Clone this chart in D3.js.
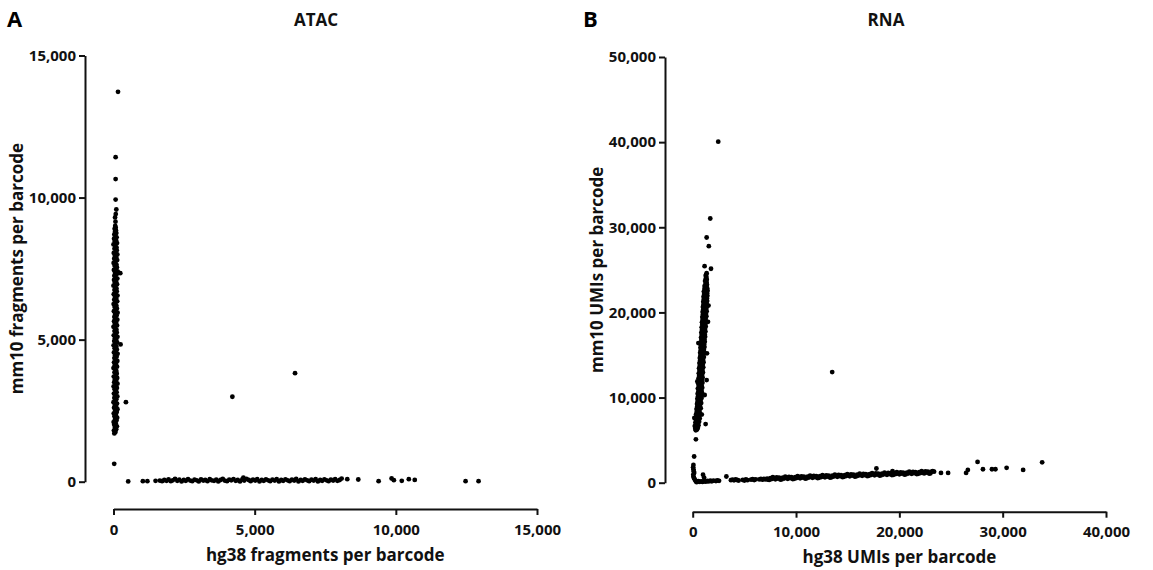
<!DOCTYPE html>
<html>
<head>
<meta charset="utf-8">
<script src="https://cdn.jsdelivr.net/npm/d3@7"></script>
<style>
  body { margin: 0; background: #fff; }
  svg { font-family: "Open Sans", Lato, sans-serif; }
</style>
</head>
<body>
<svg id="chart" width="1153" height="570"></svg>
<script>
// ---- ATAC (panel A): [hg38, mm10] fragments per barcode
const atacXTicks = [0, 5000, 10000, 15000];
const atacYTicks = [0, 5000, 10000, 15000];

const atacMouseCells = [
  [25,630],
  [30,1700],[70,1750],[15,1800],[95,1850],[50,1900],[120,1950],[25,2000],[80,2050],[5,2100],[105,2150],[55,2200],[130,2250],[35,2300],[85,2350],[10,2400],[115,2450],
  [60,2500],[140,2550],[20,2600],[90,2650],[45,2700],[125,2750],[0,2800],[75,2850],[100,2900],[30,2950],[135,3000],[55,3050],[15,3100],[110,3150],[65,3200],[40,3250],
  [120,3300],[5,3350],[85,3400],[140,3450],[25,3500],[95,3550],[50,3600],[130,3650],[10,3700],[75,3750],[115,3800],[35,3850],[100,3900],[60,3950],[0,4000],[125,4050],
  [45,4100],[90,4150],[20,4200],[135,4250],[70,4300],[30,4350],[110,4400],[55,4450],[145,4500],[15,4550],[85,4600],[120,4650],[40,4700],[100,4750],[5,4800],[65,4850],
  [130,4900],[25,4950],[95,5000],[50,5050],[140,5100],[10,5150],[80,5200],[115,5250],[35,5300],[105,5350],[60,5400],[0,5450],[125,5500],[45,5550],[90,5600],[20,5650],
  [135,5700],[70,5750],[30,5800],[110,5850],[55,5900],[145,5950],[15,6000],[85,6050],[120,6100],[40,6150],[100,6200],[5,6250],[65,6300],[130,6350],[25,6400],[95,6450],
  [50,6500],[140,6550],[10,6600],[80,6650],[115,6700],[35,6750],[105,6800],[60,6850],[0,6900],[125,6950],[45,7000],[90,7050],[20,7100],[135,7150],[70,7200],[30,7250],
  [110,7300],[55,7350],[140,7400],[15,7450],[85,7500],[120,7550],[40,7600],[100,7650],[5,7700],[65,7750],[130,7800],[25,7850],[95,7900],[50,7950],[135,8000],[10,8050],
  [80,8100],[115,8150],[35,8200],[105,8250],[60,8300],[0,8350],[125,8400],[45,8450],[90,8500],[20,8550],[110,8600],[70,8650],[30,8700],[100,8750],[55,8800],[85,8850],
  [40,8900],[75,8950],[60,9000],[70,9150],[55,9300],[80,9420],[100,9580],[75,9930],[75,10650],[75,11420]
];

const atacHumanCells = [
  [520,10],[1040,20],[1200,20],[1490,30],[1640,40],[1720,20],[1800,60],[1880,30],[1950,80],[2030,20],
  [2100,50],[2180,100],[2260,30],[2330,70],[2410,10],[2490,60],[2560,30],[2640,90],[2720,40],[2790,20],
  [2870,70],[2950,50],[3020,10],[3100,80],[3180,40],[3250,60],[3330,20],[3410,90],[3480,50],[3560,30],
  [3640,70],[3710,10],[3790,60],[3870,100],[3940,40],[4020,20],[4100,70],[4170,50],[4250,90],[4330,30],
  [4400,60],[4480,10],[4560,80],[4600,140],[4630,40],[4710,100],[4790,60],[4860,20],[4940,70],[5020,40],
  [5090,90],[5170,10],[5250,60],[5320,30],[5400,80],[5480,50],[5550,20],[5630,70],[5710,40],[5780,90],
  [5860,10],[5940,60],[6010,30],[6090,80],[6170,50],[6240,20],[6320,70],[6400,40],[6470,100],[6550,10],
  [6630,60],[6700,30],[6780,80],[6860,50],[6930,20],[7010,70],[7090,40],[7160,90],[7240,10],[7320,60],
  [7390,30],[7470,80],[7550,50],[7620,20],[7700,70],[7780,40],[7850,90],[7930,30],[8010,60],[8080,110],
  [8280,90],[8670,77],[9390,20],[9850,116],[9930,52],[10210,30],[10460,90],[10670,64],[12470,20],[12930,20]
];

const atacMixed = [
  [160,13720],[150,7380],[240,7340],[250,4830],[440,2800],[4210,2990],[6430,3820]
];

// ---- RNA (panel B): [hg38, mm10] UMIs per barcode
const rnaXTicks = [0, 10000, 20000, 30000, 40000];
const rnaYTicks = [0, 10000, 20000, 30000, 40000, 50000];

const rnaMouseCells = [
  [300,6150],[420,6250],[250,6350],[500,6450],[380,6550],[200,6650],[560,6750],[330,6850],[470,6950],[260,7050],
  [620,7150],[400,7250],[520,7350],[300,7450],[680,7550],[450,7650],[350,7750],[600,7850],[520,7950],[330,8050],
  [720,8150],[480,8250],[400,8350],[650,8450],[560,8550],[370,8650],[780,8750],[500,8850],[440,8950],[700,9050],
  [600,9150],[420,9250],[820,9350],[540,9450],[480,9550],[760,9650],[640,9750],[450,9850],[860,9950],[580,10050],
  [520,10150],[800,10250],[680,10350],[480,10450],[900,10550],[620,10650],[560,10750],[840,10850],[720,10950],[500,11050],
  [920,11150],[650,11250],[580,11350],[860,11450],[760,11550],[530,11650],[940,11750],[680,11850],[600,11950],[880,12050],
  [790,12150],[560,12250],[960,12350],[710,12450],[630,12550],[910,12650],[820,12750],[590,12850],[990,12950],[740,13050],
  [660,13150],[940,13250],[850,13350],[620,13450],[1020,13550],[770,13650],[690,13750],[970,13850],[880,13950],[650,14050],
  [1050,14150],[800,14250],[720,14350],[1000,14450],[910,14550],[690,14650],[1080,14750],[830,14850],[750,14950],[1040,15050],
  [940,15150],[720,15250],[1110,15350],[860,15450],[780,15550],[1070,15650],[970,15750],[750,15850],[1140,15950],[890,16050],
  [810,16150],[1100,16250],[1000,16350],[780,16450],[1170,16550],[920,16650],[840,16750],[1130,16850],[1030,16950],[810,17050],
  [1200,17150],[950,17250],[870,17350],[1160,17450],[1060,17550],[840,17650],[1230,17750],[980,17850],[900,17950],[1190,18050],
  [1090,18150],[870,18250],[1260,18350],[1010,18450],[930,18550],[1220,18650],[1120,18750],[900,18850],[1290,18950],[1040,19050],
  [960,19150],[1250,19250],[1150,19350],[930,19450],[1320,19550],[1070,19650],[990,19750],[1280,19850],[1180,19950],[960,20050],
  [1350,20150],[1100,20250],[1020,20350],[1310,20450],[1210,20550],[990,20650],[1380,20750],[1130,20850],[1050,20950],[1340,21050],
  [1240,21150],[1020,21250],[1400,21350],[1160,21450],[1080,21550],[1370,21650],[1270,21750],[1050,21850],[1420,21950],[1190,22050],
  [1110,22150],[1390,22250],[1300,22350],[1080,22450],[1440,22550],[1220,22650],[1140,22750],[1400,22850],[1320,22950],[1150,23100],
  [1380,23250],[1250,23400],[1340,23550],[1200,23700],[1360,23850],[1280,24000],[1330,24150],[1260,24300],[1300,24450],[1350,24600],
  [1530,20800],[1480,18900],[550,16400],[1380,15200],[450,11900],[1160,10300],[160,7600],[880,8000],
  [1150,25430],[1770,25130],[1560,27780],[1350,28800],[1700,31030],[1350,12050],[1250,6880],[310,5090],[140,3080]
];

const rnaHumanCells = [
  [70,2090],[40,1800],[70,1580],[100,1350],[140,1150],[60,950],[70,730],[120,550],[200,380],[260,250],
  [1000,940],[1100,600],
  [330,150],[380,60],[450,120],[550,180],[680,100],[820,160],[950,90],[1100,180],[1250,120],[1400,200],
  [1550,150],[1700,230],[1850,160],[2000,240],[2250,200],[2400,270],[2550,220],[3260,730],[3700,300],[3850,360],
  [4000,280],[4150,390],[4300,320],[4450,260],[4850,330],[5000,250],[5150,380],[5300,300],[5650,350],[5800,430],
  [5950,320],[6100,400],[6450,380],[6600,460],[6750,350],[6900,450],[7050,390],[7200,480],[7300,360],
  [7400,330],[7520,546],[7640,432],[7760,647],[7880,503],[8000,399],[8120,625],[8240,491],[8360,606],[8480,372],
  [8600,388],[8720,604],[8840,490],[8960,705],[9080,561],[9200,457],[9320,683],[9440,549],[9560,664],[9680,430],
  [9800,446],[9920,662],[10040,548],[10160,763],[10280,619],[10400,515],[10520,741],[10640,607],[10760,722],[10880,488],
  [11000,504],[11120,720],[11240,606],[11360,821],[11480,677],[11600,573],[11720,799],[11840,665],[11960,780],[12080,546],
  [12200,562],[12320,778],[12440,664],[12560,879],[12680,735],[12800,631],[12920,857],[13040,723],[13160,838],[13280,604],
  [13400,620],[13520,836],[13640,722],[13760,937],[13880,793],[14000,689],[14120,915],[14240,781],[14360,896],[14480,662],
  [14600,678],[14720,894],[14840,780],[14960,995],[15080,851],[15200,747],[15320,973],[15440,839],[15560,954],[15680,720],
  [15800,736],[15920,952],[16040,838],[16160,1053],[16280,909],[16400,805],[16520,1031],[16640,897],[16760,1012],[16880,778],
  [17000,794],[17120,1010],[17240,896],[17360,1111],[17480,967],[17600,863],[17720,1089],[17780,1670],[17840,951],[17960,1070],
  [18080,836],[18200,852],[18320,1068],[18440,954],[18560,1169],[18680,1025],[18800,921],[18920,1147],[19040,1013],[19160,1128],
  [19280,894],[19340,1370],[19400,910],[19520,1126],[19640,1012],[19760,1227],[19880,1083],[20000,979],[20120,1205],[20240,1071],
  [20360,1186],[20480,952],[20600,968],[20720,1184],[20840,1070],[20960,1285],[21080,1141],[21200,1037],[21320,1263],[21440,1129],
  [21560,1244],[21680,1010],[21800,1026],[21920,1242],[22040,1128],[22160,1343],[22280,1199],[22400,1095],[22520,1321],[22640,1187],
  [22760,1302],[22880,1068],[23000,1084],[23120,1300],[23230,1370],[23360,1300],
  [24030,1150],[24720,1150],[26460,1150],[26630,1500],[27570,2440],[28090,1580],[28960,1580],[29300,1580],[30380,1750],[31980,1500],
  [33820,2390]
];

const rnaMixed = [
  [2470,40050],[13500,12990]
];

const svg = d3.select("#chart");
const fmt = d3.format(",");
const ink = "#111";

const panels = [
  {
    letter: "A", letterX: 7, title: "ATAC", titleX: 316,
    xLabel: "hg38 fragments per barcode", yLabel: "mm10 fragments per barcode",
    xTicks: atacXTicks, yTicks: atacYTicks,
    xRange: [113.5, 537], yRange: [481.7, 55.5], yAxisX: 85, xAxisY: 509,
    yLabelX: 17, xLabelY: 561,
    sets: [atacMouseCells, atacHumanCells, atacMixed]
  },
  {
    letter: "B", letterX: 583, title: "RNA", titleX: 886,
    xLabel: "hg38 UMIs per barcode", yLabel: "mm10 UMIs per barcode",
    xTicks: rnaXTicks, yTicks: rnaYTicks,
    xRange: [692.7, 1106], yRange: [482.7, 57], yAxisX: 665, xAxisY: 511.7,
    yLabelX: 597, xLabelY: 563,
    sets: [rnaMouseCells, rnaHumanCells, rnaMixed]
  }
];

panels.forEach(p => {
  const g = svg.append("g");
  const x = d3.scaleLinear()
    .domain(d3.extent(p.xTicks))
    .range(p.xRange);
  const y = d3.scaleLinear()
    .domain(d3.extent(p.yTicks))
    .range(p.yRange);

  const yAxis = g.append("g")
    .attr("transform", `translate(${p.yAxisX},0)`)
    .call(d3.axisLeft(y).tickValues(p.yTicks).tickFormat(fmt).tickSize(6).tickSizeOuter(0).tickPadding(3));

  const xAxis = g.append("g")
    .attr("transform", `translate(0,${p.xAxisY})`)
    .call(d3.axisBottom(x).tickValues(p.xTicks).tickFormat(fmt).tickSize(6).tickSizeOuter(0).tickPadding(9));

  [yAxis, xAxis].forEach(ax => {
    ax.select(".domain").attr("stroke", ink).attr("stroke-width", 2);
    ax.selectAll(".tick line").attr("stroke", ink).attr("stroke-width", 2);
    ax.selectAll(".tick text")
      .attr("fill", ink)
      .attr("font-family", "'Open Sans', sans-serif")
      .attr("font-size", 15)
      .attr("font-weight", 700);
  });

  // dots
  p.sets.forEach(set => {
    g.append("g")
      .selectAll("circle")
      .data(set)
      .join("circle")
      .attr("cx", d => x(d[0]))
      .attr("cy", d => y(d[1]))
      .attr("r", 2.4)
      .attr("fill", "#000");
  });

  g.append("text")
    .attr("x", p.letterX)
    .attr("y", 27)
    .attr("font-size", 22)
    .attr("font-weight", 700)
    .attr("fill", "#000")
    .text(p.letter);

  g.append("text")
    .attr("x", p.titleX)
    .attr("y", 26)
    .attr("text-anchor", "middle")
    .attr("font-size", 17)
    .attr("font-weight", 700)
    .attr("fill", ink)
    .text(p.title);

  g.append("text")
    .attr("x", d3.mean(p.xRange))
    .attr("y", p.xLabelY)
    .attr("text-anchor", "middle")
    .attr("font-size", 17)
    .attr("font-weight", 700)
    .attr("fill", ink)
    .text(p.xLabel);

  g.append("text")
    .attr("transform", `translate(${p.yLabelX},${d3.mean(p.yRange)}) rotate(-90)`)
    .attr("text-anchor", "middle")
    .attr("dy", "0.35em")
    .attr("font-size", 17)
    .attr("font-weight", 700)
    .attr("fill", ink)
    .text(p.yLabel);
});
</script>
</body>
</html>
